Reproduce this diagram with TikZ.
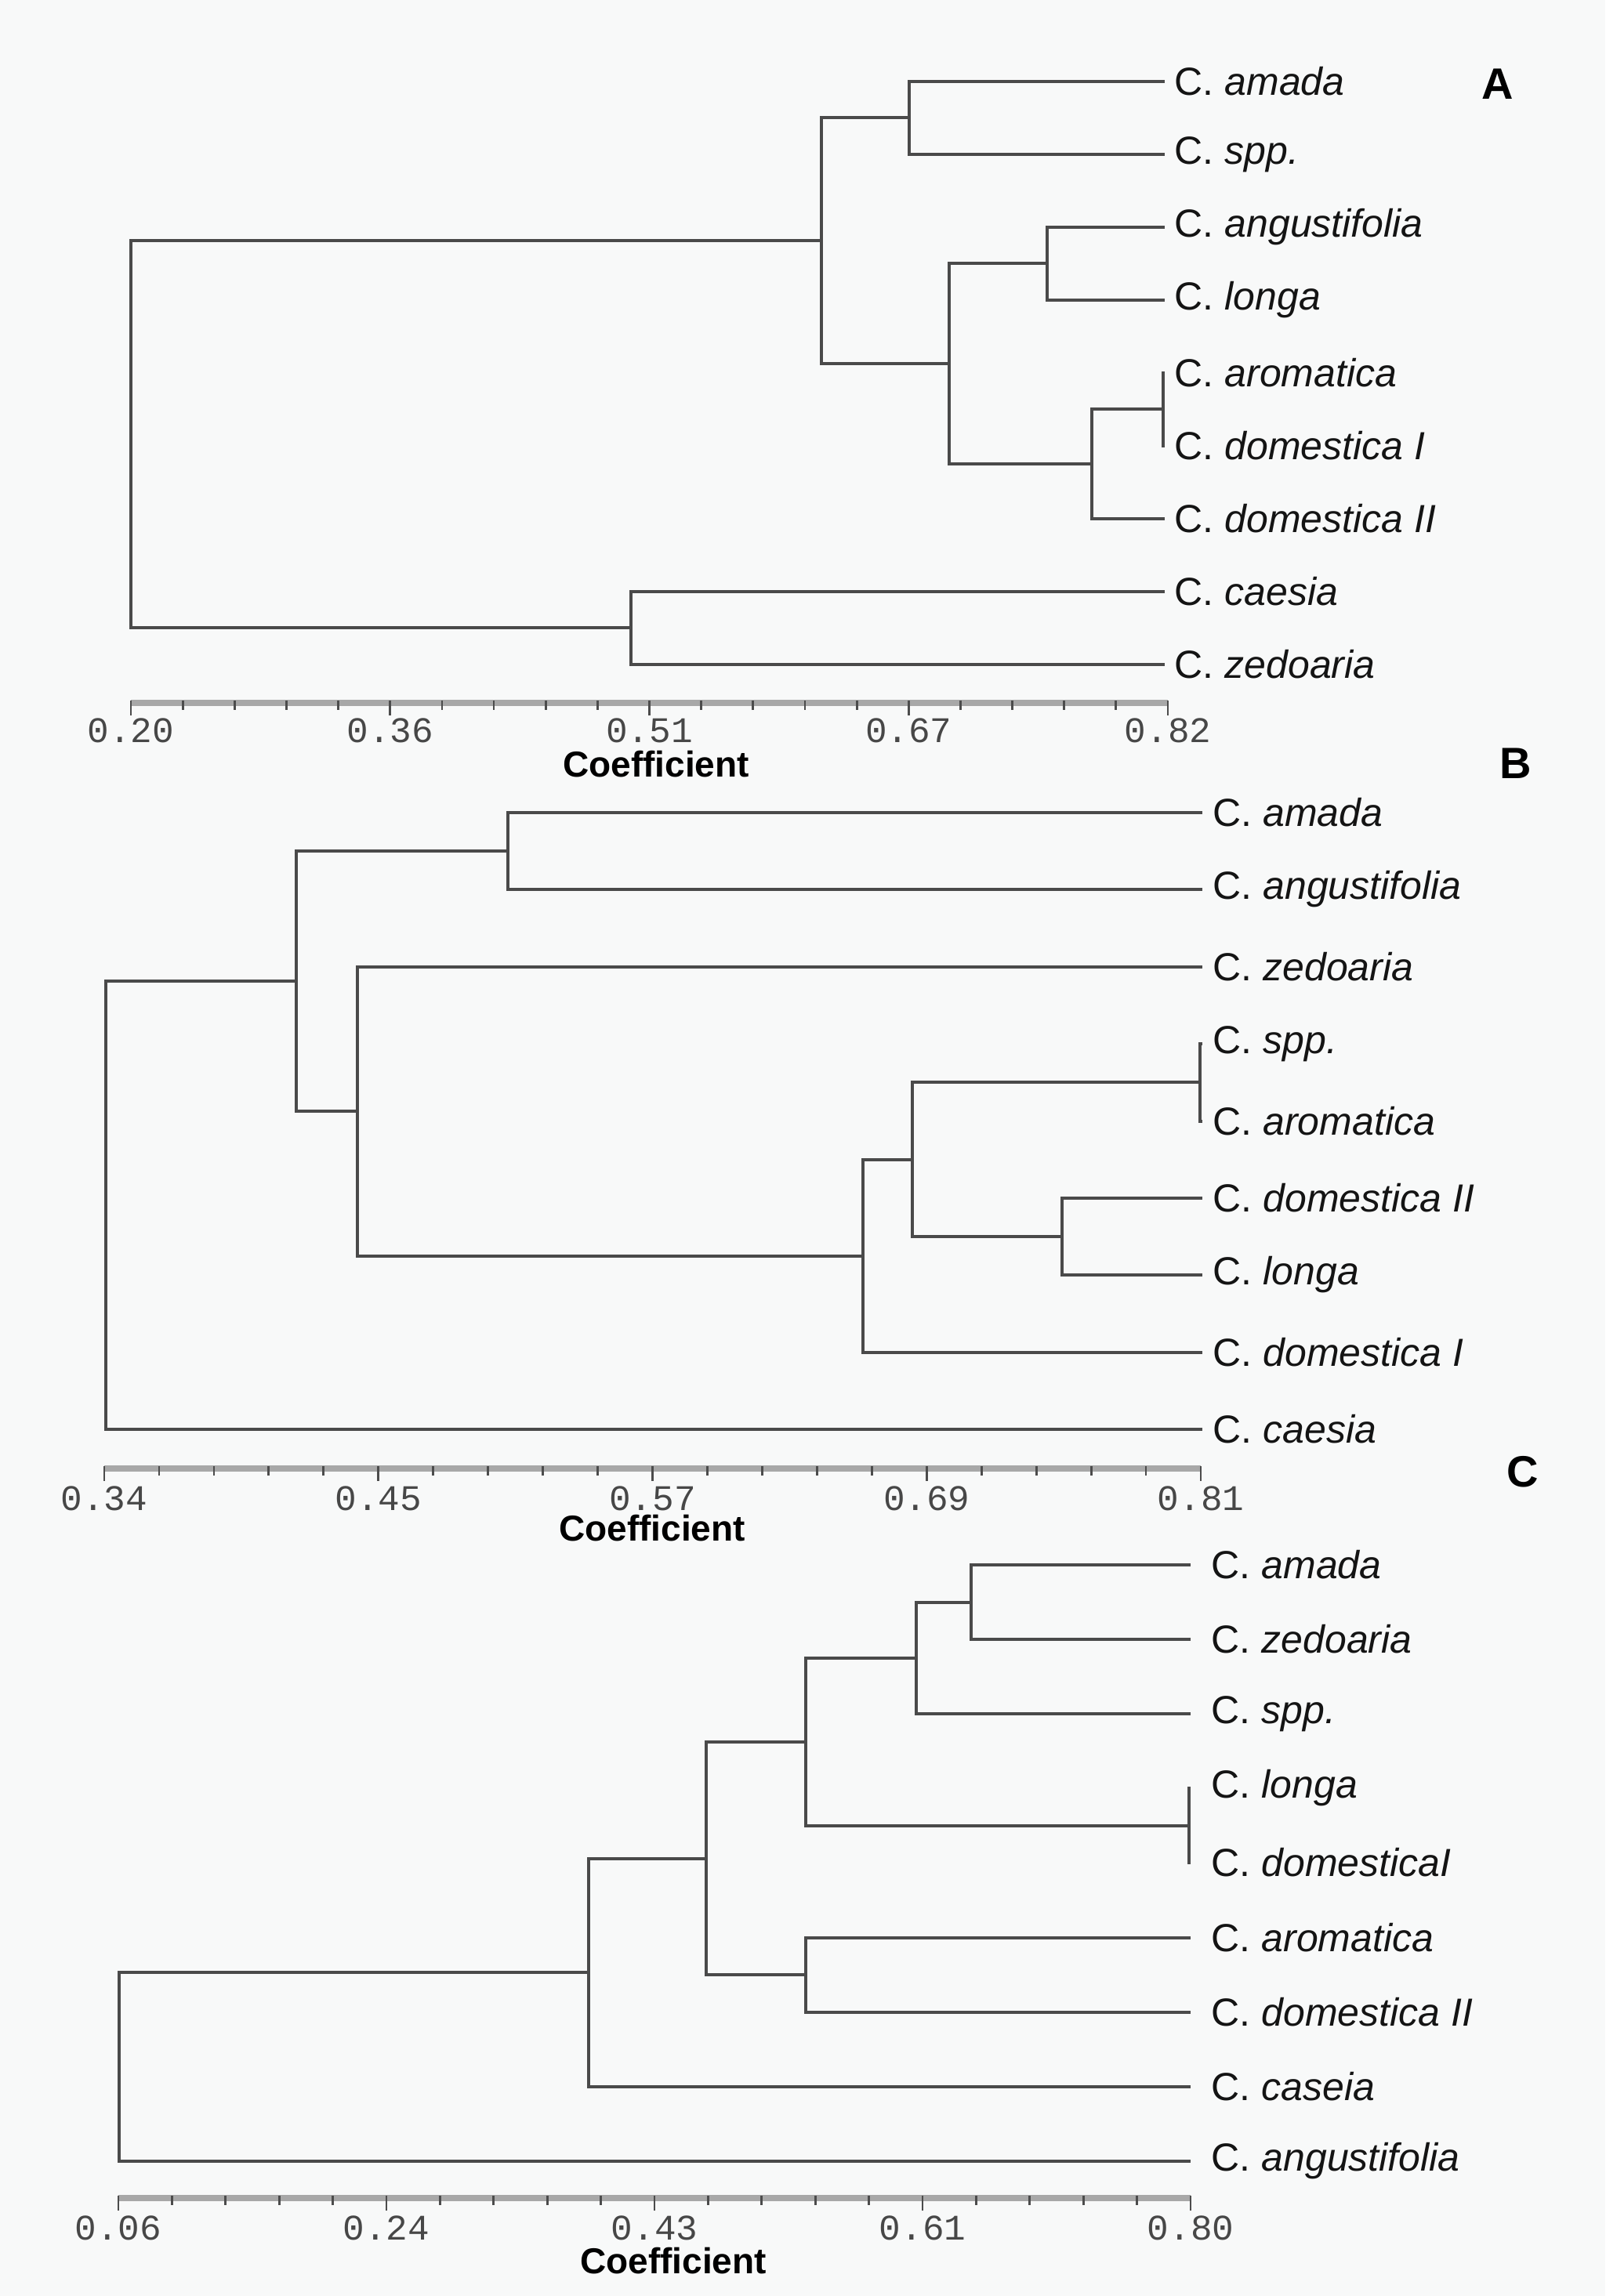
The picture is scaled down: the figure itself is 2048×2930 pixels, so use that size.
\documentclass[tikz,border=0pt]{standalone}
\usepackage{fontspec}
\setmainfont{Liberation Sans}
\newfontfamily\tickfont{Liberation Mono}
\definecolor{bg}{HTML}{F8F9F9}
\definecolor{branch}{HTML}{4A4A4A}
\definecolor{band}{HTML}{A8A8A8}
\begin{document}
\begin{tikzpicture}[x=0.25pt,y=-0.25pt,
  br/.style={draw=branch, line width=1.15pt},
  leaf/.style={anchor=west, inner sep=0pt, font=\fontsize{12.5}{14}\selectfont, text=black!92},
  axisband/.style={draw=band, line width=2pt},
  tickmark/.style={draw=black!70, line width=0.7pt},
  ticklab/.style={inner sep=0pt, font=\tickfont\fontsize{11.5}{12}\selectfont, text=black!72},
  coef/.style={inner sep=0pt, font=\bfseries\fontsize{11.5}{13}\selectfont},
  panel/.style={inner sep=0pt, font=\bfseries\fontsize{14}{16}\selectfont}]
\useasboundingbox (0,0) rectangle (2048,2930);
\fill[bg] (0,0) rectangle (2048,2930);

% ================= Panel A =================
\coordinate (a1) at (1486,104);
\coordinate (a2) at (1486,197);
\coordinate (a3) at (1486,290);
\coordinate (a4) at (1486,383);
\coordinate (a5) at (1486,476);
\coordinate (a6) at (1486,569);
\coordinate (a7) at (1486,662);
\coordinate (a8) at (1486,755);
\coordinate (a9) at (1486,848);
\node[leaf,xshift=3pt] (la1) at (a1) {C. \textit{amada}};
\node[leaf,xshift=3pt] (la2) at (a2) {C. \textit{spp.}};
\node[leaf,xshift=3pt] (la3) at (a3) {C. \textit{angustifolia}};
\node[leaf,xshift=3pt] (la4) at (a4) {C. \textit{longa}};
\node[leaf,xshift=3pt] (la5) at (a5) {C. \textit{aromatica}};
\node[leaf,xshift=3pt] (la6) at (a6) {C. \textit{domestica I}};
\node[leaf,xshift=3pt] (la7) at (a7) {C. \textit{domestica II}};
\node[leaf,xshift=3pt] (la8) at (a8) {C. \textit{caesia}};
\node[leaf,xshift=3pt] (la9) at (a9) {C. \textit{zedoaria}};
\coordinate (nA12) at (1160,150);
\coordinate (nA34) at (1336,336);
\coordinate (nA56) at (1484,522);
\coordinate (nA567) at (1393,592);
\coordinate (nA3to7) at (1211,464);
\coordinate (nA1to7) at (1048,307);
\coordinate (nA89) at (805,801);
\coordinate (nAroot) at (167,554);
\draw[br] (nA12) |- (a1); \draw[br] (nA12) |- (a2);
\draw[br] (nA34) |- (a3); \draw[br] (nA34) |- (a4);
\draw[br] (nA56) |- (a5); \draw[br] (nA56) |- (a6);
\draw[br] (nA567) |- (nA56); \draw[br] (nA567) |- (a7);
\draw[br] (nA3to7) |- (nA34); \draw[br] (nA3to7) |- (nA567);
\draw[br] (nA1to7) |- (nA12); \draw[br] (nA1to7) |- (nA3to7);
\draw[br] (nA89) |- (a8); \draw[br] (nA89) |- (a9);
\draw[br] (nAroot) |- (nA1to7); \draw[br] (nAroot) |- (nA89);
% axis A
\draw[axisband] (167,897) -- (1490,897);
\foreach \i in {0,...,20} \draw[tickmark] ({167+\i*66.15},894) -- ++(0,12);
\foreach \i/\v in {0/0.20,1/0.36,2/0.51,3/0.67,4/0.82} {
  \draw[tickmark] ({167+\i*330.75},894) -- ++(0,19);
  \node[ticklab] (tA\i) at ({167+\i*330.75},932) {\v};
}
\node[coef] (cA) at (837,975) {Coefficient};
\node[panel] (pA) at (1911,107) {A};

% ================= Panel B =================
\coordinate (b1) at (1534,1037);
\coordinate (b2) at (1534,1135);
\coordinate (b3) at (1534,1234);
\coordinate (b4) at (1534,1332);
\coordinate (b5) at (1534,1431);
\coordinate (b6) at (1534,1529);
\coordinate (b7) at (1534,1627);
\coordinate (b8) at (1534,1726);
\coordinate (b9) at (1534,1824);
\node[leaf,xshift=3.2pt] (lb1) at (b1) {C. \textit{amada}};
\node[leaf,xshift=3.2pt] (lb2) at (b2) {C. \textit{angustifolia}};
\node[leaf,xshift=3.2pt] (lb3) at (b3) {C. \textit{zedoaria}};
\node[leaf,xshift=3.2pt] (lb4) at (b4) {C. \textit{spp.}};
\node[leaf,xshift=3.2pt] (lb5) at (b5) {C. \textit{aromatica}};
\node[leaf,xshift=3.2pt] (lb6) at (b6) {C. \textit{domestica II}};
\node[leaf,xshift=3.2pt] (lb7) at (b7) {C. \textit{longa}};
\node[leaf,xshift=3.2pt] (lb8) at (b8) {C. \textit{domestica I}};
\node[leaf,xshift=3.2pt] (lb9) at (b9) {C. \textit{caesia}};
\coordinate (nB12) at (648,1086);
\coordinate (nB45) at (1531,1381);
\coordinate (nB67) at (1355,1578);
\coordinate (nB4to7) at (1164,1480);
\coordinate (nB4to8) at (1101,1603);
\coordinate (nB3to8) at (456,1418);
\coordinate (nB1to8) at (378,1252);
\coordinate (nBroot) at (135,1538);
\draw[br] (nB12) |- (b1); \draw[br] (nB12) |- (b2);
\draw[br] (nB45) |- (b4); \draw[br] (nB45) |- (b5);
\draw[br] (nB67) |- (b6); \draw[br] (nB67) |- (b7);
\draw[br] (nB4to7) |- (nB45); \draw[br] (nB4to7) |- (nB67);
\draw[br] (nB4to8) |- (nB4to7); \draw[br] (nB4to8) |- (b8);
\draw[br] (nB3to8) |- (b3); \draw[br] (nB3to8) |- (nB4to8);
\draw[br] (nB1to8) |- (nB12); \draw[br] (nB1to8) |- (nB3to8);
\draw[br] (nBroot) |- (nB1to8); \draw[br] (nBroot) |- (b9);
% axis B
\draw[axisband] (133,1874) -- (1532,1874);
\foreach \i in {0,...,20} \draw[tickmark] ({133+\i*69.95},1871) -- ++(0,12);
\foreach \i/\v in {0/0.34,1/0.45,2/0.57,3/0.69,4/0.81} {
  \draw[tickmark] ({133+\i*349.75},1871) -- ++(0,19);
  \node[ticklab] (tB\i) at ({133+\i*349.75},1912) {\v};
}
\node[coef] (cB) at (832,1950) {Coefficient};
\node[panel] (pB) at (1934,974) {B};

% ================= Panel C =================
\coordinate (c1) at (1519,1997);
\coordinate (c2) at (1519,2092);
\coordinate (c3) at (1519,2187);
\coordinate (c4) at (1519,2282);
\coordinate (c5) at (1519,2377);
\coordinate (c6) at (1519,2473);
\coordinate (c7) at (1519,2568);
\coordinate (c8) at (1519,2663);
\coordinate (c9) at (1519,2758);
\node[leaf,xshift=6.5pt] (lc1) at (c1) {C. \textit{amada}};
\node[leaf,xshift=6.5pt] (lc2) at (c2) {C. \textit{zedoaria}};
\node[leaf,xshift=6.5pt] (lc3) at (c3) {C. \textit{spp.}};
\node[leaf,xshift=6.5pt] (lc4) at (c4) {C. \textit{longa}};
\node[leaf,xshift=6.5pt] (lc5) at (c5) {C. \textit{domesticaI}};
\node[leaf,xshift=6.5pt] (lc6) at (c6) {C. \textit{aromatica}};
\node[leaf,xshift=6.5pt] (lc7) at (c7) {C. \textit{domestica II}};
\node[leaf,xshift=6.5pt] (lc8) at (c8) {C. \textit{caseia}};
\node[leaf,xshift=6.5pt] (lc9) at (c9) {C. \textit{angustifolia}};
\coordinate (nC12) at (1239,2045);
\coordinate (nC123) at (1169,2116);
\coordinate (nC45) at (1517,2330);
\coordinate (nC1to5) at (1028,2223);
\coordinate (nC67) at (1028,2520);
\coordinate (nC1to7) at (901,2372);
\coordinate (nC1to8) at (751,2517);
\coordinate (nCroot) at (152,2638);
\draw[br] (nC12) |- (c1); \draw[br] (nC12) |- (c2);
\draw[br] (nC123) |- (nC12); \draw[br] (nC123) |- (c3);
\draw[br] (nC45) |- (c4); \draw[br] (nC45) |- (c5);
\draw[br] (nC1to5) |- (nC123); \draw[br] (nC1to5) |- (nC45);
\draw[br] (nC67) |- (c6); \draw[br] (nC67) |- (c7);
\draw[br] (nC1to7) |- (nC1to5); \draw[br] (nC1to7) |- (nC67);
\draw[br] (nC1to8) |- (nC1to7); \draw[br] (nC1to8) |- (c8);
\draw[br] (nCroot) |- (nC1to8); \draw[br] (nCroot) |- (c9);
% axis C
\draw[axisband] (151,2805) -- (1519,2805);
\foreach \i in {0,...,20} \draw[tickmark] ({151+\i*68.4},2802) -- ++(0,12);
\foreach \i/\v in {0/0.06,1/0.24,2/0.43,3/0.61,4/0.80} {
  \draw[tickmark] ({151+\i*342},2802) -- ++(0,19);
  \node[ticklab] (tC\i) at ({151+\i*342},2843) {\v};
}
\node[coef] (cC) at (859,2885) {Coefficient};
\node[panel] (pC) at (1943,1878) {C};
\end{tikzpicture}
\end{document}
